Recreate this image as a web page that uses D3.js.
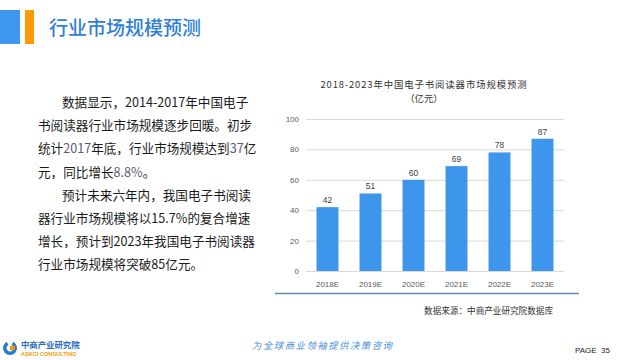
<!DOCTYPE html>
<html><head><meta charset="utf-8">
<script src="https://cdn.jsdelivr.net/npm/d3@7/dist/d3.min.js"></script>
<style>body{margin:0;background:#fff;}svg{display:block;font-family:"Noto Sans CJK SC","Noto Sans",sans-serif;}</style>
</head><body>
<svg id="c" width="625" height="360"></svg>
<script>
const categories = ["2018E","2019E","2020E","2021E","2022E","2023E"];
const values = [42,51,60,69,78,87];
const yTicks = [0,20,40,60,80,100];
const chartTitle = "2018-2023年中国电子书阅读器市场规模预测";
const chartUnit = "（亿元）";
const pageTitle = "行业市场规模预测";
const sourceText = "数据来源：中商产业研究院数据库";
const paragraphLines = [
  {parts:[["数据显示，2014-2017年中国电子",0]], indent:true},
  {parts:[["书阅读器行业市场规模逐步回暖。初步",0]], indent:false},
  {parts:[["统计",0],["2017",1],["年底，行业市场规模达到",0],["37",1],["亿",0]], indent:false},
  {parts:[["元，同比增长",0],["8.8%",1],["。",0]], indent:false},
  {parts:[["预计未来六年内，我国电子书阅读",0]], indent:true},
  {parts:[["器行业市场规模将以15.7%的复合增速",0]], indent:false},
  {parts:[["增长，预计到2023年我国电子书阅读器",0]], indent:false},
  {parts:[["行业市场规模将突破85亿元。",0]], indent:false}
];

const svg = d3.select("#c");

// header
svg.append("rect").attr("x",0).attr("y",10).attr("width",20).attr("height",34).attr("fill","#3f97f0");
svg.append("rect").attr("x",25).attr("y",10).attr("width",9).attr("height",34).attr("fill","#ff9900");
svg.append("text").attr("x",49).attr("y",35).attr("font-size",19).attr("fill","#2f7fd6")
  .attr("font-weight",500).text(pageTitle);

// paragraph
const para = svg.append("g");
paragraphLines.forEach((l,i)=>{
  const t = para.append("text").attr("x", l.indent?62:38).attr("y",107+i*23.2)
    .attr("font-size",12.6).attr("fill","#1a1a1a");
  l.parts.forEach(p=>{
    t.append("tspan").attr("fill", p[1]?"#5b5b78":"#1a1a1a").text(p[0]);
  });
});

// chart
const x = d3.scaleBand().domain(categories).range([306,564]).paddingInner(0.49).paddingOuter(0.245);
const y = d3.scaleLinear().domain([0,100]).range([271,119]);

svg.append("text").attr("x",424).attr("y",87.5).attr("text-anchor","middle")
  .attr("font-size",9.4).attr("letter-spacing",0.9).attr("fill","#333").text(chartTitle);
svg.append("text").attr("x",424).attr("y",102).attr("text-anchor","middle")
  .attr("font-size",9.4).attr("fill","#333").text(chartUnit);

const grid = svg.append("g");
grid.selectAll("line").data(yTicks).join("line")
  .attr("x1",306).attr("x2",564).attr("y1",d=>y(d)+0.5).attr("y2",d=>y(d)+0.5)
  .attr("stroke","#d9d9d9").attr("stroke-width",1);

const yAxis = svg.append("g").attr("transform","translate(306,0)")
  .call(d3.axisLeft(y).tickValues(yTicks).tickSize(0).tickPadding(7));
yAxis.select(".domain").remove();
yAxis.selectAll("text").attr("font-size",8).attr("fill","#595959").attr("font-family","Liberation Sans, Arial, sans-serif");

svg.append("g").selectAll("rect").data(values).join("rect")
  .attr("x",(d,i)=>x(categories[i])).attr("width",x.bandwidth())
  .attr("y",d=>y(d)).attr("height",d=>y(0)-y(d)).attr("fill","#3d95ec");

svg.append("g").selectAll("text").data(values).join("text")
  .attr("x",(d,i)=>x(categories[i])+x.bandwidth()/2).attr("y",d=>y(d)-4)
  .attr("text-anchor","middle").attr("font-size",8.5).attr("fill","#404040")
  .attr("font-family","Liberation Sans, Arial, sans-serif").text(d=>d);

const xAxis = svg.append("g").attr("transform","translate(0,271)")
  .call(d3.axisBottom(x).tickSize(0).tickPadding(10));
xAxis.select(".domain").remove();
xAxis.selectAll("text").attr("font-size",8).attr("fill","#595959").attr("font-family","Liberation Sans, Arial, sans-serif");

svg.append("line").attr("x1",275).attr("x2",579).attr("y1",293.5).attr("y2",293.5)
  .attr("stroke","#5b8ab5").attr("stroke-width",1.3);

svg.append("text").attr("x",553).attr("y",314).attr("text-anchor","end")
  .attr("font-size",8.6).attr("fill","#333").text(sourceText);

// footer
const logo = svg.append("g");
logo.append("path").attr("d", d3.arc()({innerRadius:3.5,outerRadius:7,startAngle:Math.PI*0.15,endAngle:Math.PI*1.85}))
  .attr("transform","translate(10,348)").attr("fill","#2a7bd2");
logo.append("rect").attr("x",10).attr("y",346).attr("width",5).attr("height",4).attr("fill","#f39800");
svg.append("text").attr("x",21).attr("y",348).attr("font-size",8.4).attr("font-weight",700).attr("fill","#2a6fc0").text("中商产业研究院");
svg.append("text").attr("x",21).attr("y",356).attr("font-size",5.6).attr("font-weight",700).attr("fill","#f39800")
  .attr("font-family","Liberation Sans, Arial, sans-serif").text("ASKCI CONSULTING");
svg.append("text").attr("x",252).attr("y",349).attr("font-size",9.4).attr("font-style","italic")
  .attr("letter-spacing",1.5).attr("fill","#4a90d9").text("为全球商业领袖提供决策咨询");
svg.append("text").attr("x",575).attr("y",353).attr("font-size",8).attr("fill","#222")
  .attr("font-family","Liberation Sans, Arial, sans-serif").attr("xml:space","preserve").text("PAGE  35");
</script>
</body></html>
